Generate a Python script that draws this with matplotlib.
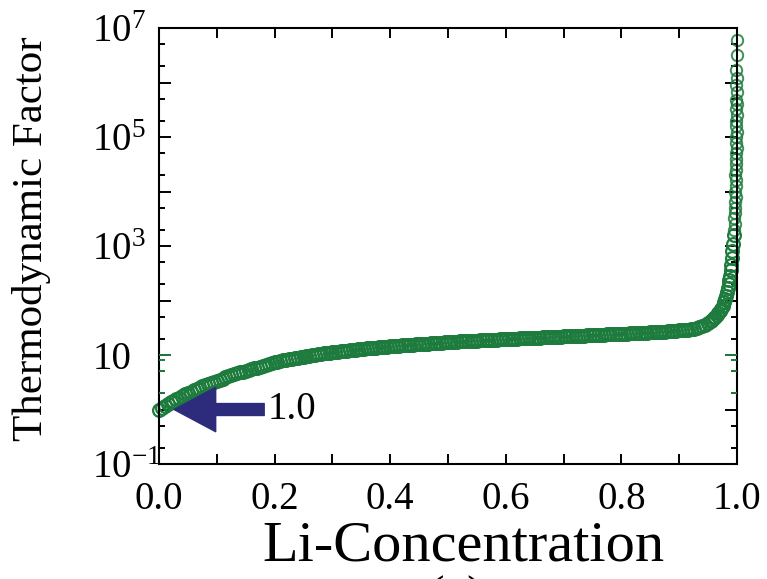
import math
import matplotlib
matplotlib.use("Agg")
import matplotlib.pyplot as plt
from matplotlib.ticker import LogLocator, FixedLocator, FuncFormatter, NullFormatter, MultipleLocator

plt.rcParams['font.family'] = ['Liberation Serif', 'DejaVu Serif']
plt.rcParams['mathtext.fontset'] = 'custom'
plt.rcParams['mathtext.rm'] = 'Liberation Serif'
plt.rcParams['mathtext.it'] = 'Liberation Serif:italic'

# thermodynamic factor vs Li concentration (open circles)
li_conc = [0.00, 0.01, 0.02, 0.03, 0.04, 0.05, 0.06, 0.07, 0.08, 0.09,
           0.10, 0.11, 0.12, 0.13, 0.14, 0.15, 0.16, 0.17, 0.18, 0.19,
           0.20, 0.21, 0.22, 0.23, 0.24, 0.25, 0.26, 0.27, 0.28, 0.29,
           0.30, 0.31, 0.32, 0.33, 0.34, 0.35, 0.36, 0.37, 0.38, 0.39,
           0.40, 0.41, 0.42, 0.43, 0.44, 0.45, 0.46, 0.47, 0.48, 0.49,
           0.50, 0.51, 0.52, 0.53, 0.54, 0.55, 0.56, 0.57, 0.58, 0.59,
           0.60, 0.61, 0.62, 0.63, 0.64, 0.65, 0.66, 0.67, 0.68, 0.69,
           0.70, 0.71, 0.72, 0.73, 0.74, 0.75, 0.76, 0.77, 0.78, 0.79,
           0.80, 0.81, 0.82, 0.83, 0.84, 0.85, 0.86, 0.87, 0.88, 0.89,
           0.90, 0.91, 0.92, 0.93, 0.94, 0.95, 0.955, 0.96, 0.965, 0.97,
           0.975, 0.98, 0.983, 0.986, 0.988, 0.99, 0.992, 0.994]
thermo = [1.00, 1.17, 1.35, 1.55, 1.78, 2.0, 2.24, 2.5, 2.8, 3.1,
          3.4, 3.7, 4.1, 4.4, 4.8, 5.1, 5.5, 5.9, 6.3, 6.7,
          7.4, 7.8, 8.1, 8.5, 8.9, 9.3, 9.7, 10.1, 10.5, 10.9,
          11.2, 11.5, 11.9, 12.2, 12.6, 12.9, 13.2, 13.5, 13.8, 14.1,
          14.4, 14.7, 15.0, 15.2, 15.5, 15.8, 16.0, 16.3, 16.6, 16.9,
          17.2, 17.5, 17.8, 18.0, 18.2, 18.4, 18.6, 18.8, 19.0, 19.3,
          19.5, 19.7, 20.0, 20.2, 20.4, 20.7, 20.9, 21.1, 21.4, 21.6,
          21.9, 22.1, 22.4, 22.6, 22.9, 23.2, 23.4, 23.7, 24.0, 24.3,
          24.5, 24.8, 25.1, 25.4, 25.7, 26.0, 26.3, 26.7, 27.2, 27.7,
          28.2, 28.8, 29.9, 31.3, 33.9, 38, 42, 47, 54, 63,
          79, 107, 141, 200, 282, 447, 794, 1600]

# second run of the calculation, offset by half a grid step
li_conc_b = [0.005, 0.015, 0.025, 0.035, 0.045, 0.055, 0.065, 0.075, 0.085, 0.095,
             0.105, 0.115, 0.125, 0.135, 0.145, 0.155, 0.165, 0.175, 0.185, 0.195,
             0.205, 0.215, 0.225, 0.235, 0.245, 0.255, 0.265, 0.275, 0.285, 0.295,
             0.305, 0.315, 0.325, 0.335, 0.345, 0.355, 0.365, 0.375, 0.385, 0.395,
             0.405, 0.415, 0.425, 0.435, 0.445, 0.455, 0.465, 0.475, 0.485, 0.495,
             0.505, 0.515, 0.525, 0.535, 0.545, 0.555, 0.565, 0.575, 0.585, 0.595,
             0.605, 0.615, 0.625, 0.635, 0.645, 0.655, 0.665, 0.675, 0.685, 0.695,
             0.705, 0.715, 0.725, 0.735, 0.745, 0.755, 0.765, 0.775, 0.785, 0.795,
             0.805, 0.815, 0.825, 0.835, 0.845, 0.855, 0.865, 0.875, 0.885, 0.895,
             0.905, 0.915, 0.925, 0.935, 0.945, 0.9575, 0.9625, 0.9675, 0.9725, 0.9775,
             0.9815, 0.9845, 0.987, 0.989, 0.991, 0.993]
thermo_b = [1.08, 1.26, 1.45, 1.66, 1.89, 2.12, 2.37, 2.65, 2.95, 3.25,
            3.55, 3.9, 4.25, 4.6, 4.95, 5.3, 5.7, 6.1, 6.5, 7.0,
            7.6, 7.95, 8.3, 8.7, 9.1, 9.5, 9.9, 10.3, 10.7, 11.05,
            11.35, 11.7, 12.05, 12.4, 12.75, 13.05, 13.35, 13.65, 13.95, 14.25,
            14.55, 14.85, 15.1, 15.35, 15.65, 15.9, 16.15, 16.45, 16.75, 17.05,
            17.35, 17.65, 17.9, 18.1, 18.3, 18.5, 18.7, 18.9, 19.15, 19.4,
            19.6, 19.85, 20.1, 20.3, 20.55, 20.8, 21.0, 21.25, 21.5, 21.75,
            22.0, 22.25, 22.5, 22.75, 23.05, 23.3, 23.55, 23.85, 24.15, 24.4,
            24.65, 24.95, 25.25, 25.55, 25.85, 26.15, 26.5, 26.95, 27.45, 27.95,
            28.5, 29.3, 30.5, 32.5, 35.8, 44.5, 50, 58, 70, 92,
            122, 168, 240, 360, 600, 1100]

# steep branch next to full lithiation
li_conc_end = [0.995, 0.996, 0.995, 0.997, 0.996, 0.997, 0.998, 0.997, 0.998, 0.999,
               0.997, 0.998, 0.999, 0.998, 0.999, 1.000, 0.998, 0.999, 1.000, 0.999,
               0.998, 1.000, 0.999, 1.000, 0.999, 1.000, 0.999, 1.000, 0.999, 1.000, 1.000]
thermo_end = [2.0e3, 2.5e3, 3.2e3, 4.0e3, 5.0e3, 6.3e3, 7.9e3, 1.0e4, 1.26e4, 1.6e4,
              2.0e4, 2.5e4, 3.2e4, 4.0e4, 5.0e4, 6.3e4, 7.9e4, 1.0e5, 1.26e5, 1.6e5,
              2.0e5, 2.5e5, 3.2e5, 4.0e5, 4.8e5, 6.8e5, 9.0e5, 1.2e6, 1.7e6, 3.2e6, 6.0e6]

green = '#1e7b3e'
navy = '#2d2b7b'

fig = plt.figure(figsize=(7.67, 5.79), dpi=100)
ax = fig.add_axes([0.2073, 0.1986, 0.7536, 0.753])

ax.plot(li_conc, thermo, 'o', mfc='none', mec=green, mew=1.6, ms=9.2, clip_on=False)
ax.plot(li_conc_b, thermo_b, 'o', mfc='none', mec=green, mew=1.6, ms=9.2, clip_on=False)
ax.plot(li_conc_end, thermo_end, 'o', mfc='none', mec=green, mew=1.4, ms=8.2,
        alpha=0.85, clip_on=False)

ax.set_yscale('log')
ax.set_xlim(0, 1.0)
ax.set_ylim(0.1, 1e7)

# green ticks from the overlaid scale around 10
ax2 = ax.twinx()
ax2.set_yscale('log')
ax2.set_ylim(0.1, 1e7)
ax2.yaxis.set_major_locator(FixedLocator([10]))
ax2.yaxis.set_minor_locator(FixedLocator([2, 5, 8]))
ax2.yaxis.set_major_formatter(NullFormatter())
ax2.yaxis.set_minor_formatter(NullFormatter())
ax2.tick_params(axis='y', which='both', direction='in', left=True, right=True,
                labelleft=False, labelright=False, color=green, width=1.4)
ax2.tick_params(axis='y', which='major', length=8.6)
ax2.tick_params(axis='y', which='minor', length=4.3)
for s in ax2.spines.values():
    s.set_visible(False)


def decade_label(v, pos):
    e = int(round(math.log10(v)))
    if e % 2 == 0:
        return ''
    if e == 1:
        return '10'
    return r'$\mathregular{10^{%d}}$' % e


ax.yaxis.set_major_locator(LogLocator(base=10, numticks=20))
ax.yaxis.set_minor_locator(LogLocator(base=10, subs=(2, 5), numticks=20))
ax.yaxis.set_major_formatter(FuncFormatter(decade_label))
ax.yaxis.set_minor_formatter(NullFormatter())
ax.xaxis.set_major_locator(MultipleLocator(0.2))
ax.xaxis.set_minor_locator(MultipleLocator(0.1))
ax.xaxis.set_major_formatter(FuncFormatter(lambda v, p: '%.1f' % v))

ax.tick_params(which='both', direction='in', top=True, right=True, left=True,
               bottom=True, width=1.4, color='black')
ax.tick_params(axis='x', which='both', length=7.2, labelsize=28, pad=12)
ax.tick_params(axis='y', which='major', length=8.6, labelsize=28, pad=48)
ax.tick_params(axis='y', which='minor', length=4.3)
for lab in ax.get_yticklabels():
    lab.set_horizontalalignment('left')
for s in ax.spines.values():
    s.set_linewidth(1.5)

ax.set_xlabel('Li-Concentration', fontsize=42)
ax.set_ylabel('Thermodynamic Factor', fontsize=31)
ax.xaxis.set_label_coords(0.526, -0.13)
ax.yaxis.set_label_coords(-0.186, 0.517)

# arrow marking the dilute-limit value
ax.annotate('', xy=(0.026, 1.0), xytext=(0.182, 1.0),
            arrowprops=dict(arrowstyle='simple,head_length=3.0,head_width=3.2,tail_width=0.86',
                            mutation_scale=10, color=navy, shrinkA=0, shrinkB=0))
ax.text(0.188, 1.0, '1.0', fontsize=28, ha='left', va='center')

fig.text(0.595, 0.006, '(a)', fontsize=38, ha='center', va='top')

fig.savefig('out.png', dpi=100)
